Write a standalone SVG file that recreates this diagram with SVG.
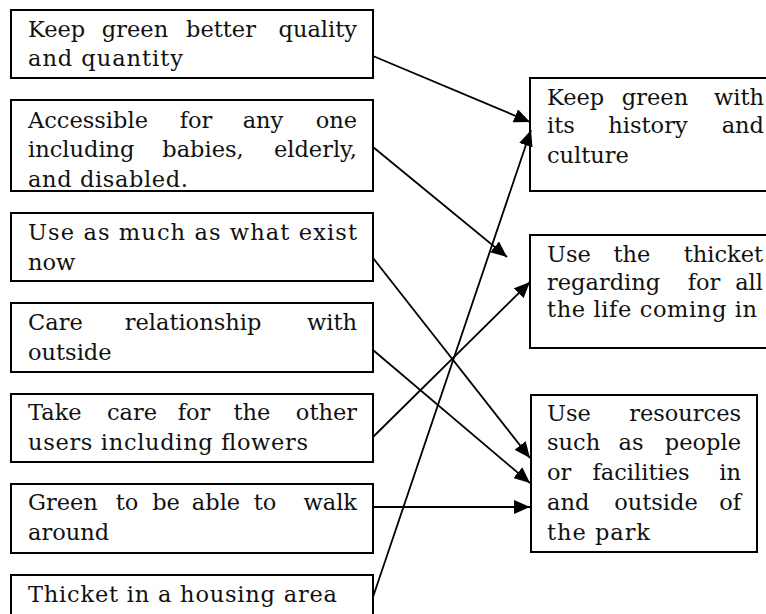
<svg xmlns="http://www.w3.org/2000/svg" width="766" height="614" viewBox="0 0 766 614">
  <style>
    .box { fill: #fff; stroke: #000; stroke-width: 2; }
    .t { font-family: "DejaVu Serif", serif; font-size: 22.5px; fill: #111; }
    .e { text-anchor: end; }
    .m { text-anchor: middle; }
    .link { fill: none; stroke: #000; stroke-width: 1.8; marker-end: url(#arrow); }
  </style>
  <defs>
    <marker id="arrow" markerUnits="userSpaceOnUse" markerWidth="18" markerHeight="14" refX="16" refY="7" orient="auto">
      <path d="M0,0 L16,7 L0,14 Z" fill="#000"/>
    </marker>
  </defs>
  <rect width="766" height="614" fill="#fff"/>

  <!-- left column -->
  <g id="n-quality">
    <rect class="box" x="11" y="10" width="362" height="68"/>
    <text class="t" y="37"><tspan x="28">Keep</tspan><tspan x="135" class="m">green</tspan><tspan x="221" class="m">better</tspan><tspan x="357" class="e">quality</tspan></text>
    <text class="t" x="28" y="66" textLength="155" lengthAdjust="spacing">and quantity</text>
  </g>
  <g id="n-accessible">
    <rect class="box" x="11" y="100" width="362" height="91"/>
    <text class="t" y="128"><tspan x="28">Accessible</tspan><tspan x="196" class="m">for</tspan><tspan x="263" class="m">any</tspan><tspan x="357" class="e">one</tspan></text>
    <text class="t" y="157"><tspan x="28">including</tspan><tspan x="203" class="m">babies,</tspan><tspan x="357" class="e">elderly,</tspan></text>
    <text class="t" x="28" y="187" textLength="160" lengthAdjust="spacing">and disabled.</text>
  </g>
  <g id="n-use-existing">
    <rect class="box" x="11" y="213" width="362" height="68"/>
    <text class="t" x="28" y="240" textLength="329" lengthAdjust="spacing">Use as much as what exist</text>
    <text class="t" x="28" y="270">now</text>
  </g>
  <g id="n-outside">
    <rect class="box" x="11" y="303" width="362" height="69"/>
    <text class="t" y="330"><tspan x="28">Care</tspan><tspan x="193" class="m">relationship</tspan><tspan x="357" class="e">with</tspan></text>
    <text class="t" x="28" y="360">outside</text>
  </g>
  <g id="n-other-users">
    <rect class="box" x="11" y="394" width="362" height="68"/>
    <text class="t" y="420"><tspan x="28">Take</tspan><tspan x="132" class="m">care</tspan><tspan x="194" class="m">for</tspan><tspan x="252" class="m">the</tspan><tspan x="357" class="e">other</tspan></text>
    <text class="t" x="28" y="450" textLength="280" lengthAdjust="spacing">users including flowers</text>
  </g>
  <g id="n-walk">
    <rect class="box" x="11" y="484" width="362" height="69"/>
    <text class="t" y="510"><tspan x="28">Green</tspan><tspan x="127" class="m">to</tspan><tspan x="166" class="m">be</tspan><tspan x="216" class="m">able</tspan><tspan x="265" class="m">to</tspan><tspan x="357" class="e">walk</tspan></text>
    <text class="t" x="28" y="540">around</text>
  </g>
  <g id="n-housing">
    <rect class="box" x="11" y="575" width="362" height="60"/>
    <text class="t" x="28" y="602" textLength="309" lengthAdjust="spacing">Thicket in a housing area</text>
  </g>

  <!-- right column -->
  <g id="n-history">
    <rect class="box" x="530" y="78" width="260" height="113"/>
    <text class="t" y="105"><tspan x="547">Keep</tspan><tspan x="655" class="m">green</tspan><tspan x="764" class="e">with</tspan></text>
    <text class="t" y="133"><tspan x="547">its</tspan><tspan x="648" class="m">history</tspan><tspan x="764" class="e">and</tspan></text>
    <text class="t" x="547" y="163">culture</text>
  </g>
  <g id="n-thicket">
    <rect class="box" x="530" y="235" width="260" height="113"/>
    <text class="t" y="262"><tspan x="547">Use</tspan><tspan x="632" class="m">the</tspan><tspan x="763" class="e">thicket</tspan></text>
    <text class="t" y="290"><tspan x="547">regarding</tspan><tspan x="704" class="m">for</tspan><tspan x="763" class="e">all</tspan></text>
    <text class="t" x="547" y="317" textLength="210" lengthAdjust="spacing">the life coming in</text>
  </g>
  <g id="n-resources">
    <rect class="box" x="531" y="395" width="226" height="157"/>
    <text class="t" y="421"><tspan x="547">Use</tspan><tspan x="741" class="e">resources</tspan></text>
    <text class="t" y="450"><tspan x="547">such</tspan><tspan x="631" class="m">as</tspan><tspan x="741" class="e">people</tspan></text>
    <text class="t" y="480"><tspan x="547">or</tspan><tspan x="641" class="m">facilities</tspan><tspan x="741" class="e">in</tspan></text>
    <text class="t" y="510"><tspan x="547">and</tspan><tspan x="656" class="m">outside</tspan><tspan x="741" class="e">of</tspan></text>
    <text class="t" x="547" y="540" textLength="103" lengthAdjust="spacing">the park</text>
  </g>

  <!-- connectors -->
  <g id="connectors">
    <line class="link" x1="373" y1="56" x2="530" y2="122"/>
    <line class="link" x1="373" y1="147" x2="507" y2="257"/>
    <line class="link" x1="373" y1="258" x2="530" y2="458"/>
    <line class="link" x1="373" y1="350" x2="530" y2="483"/>
    <line class="link" x1="373" y1="437" x2="530" y2="282"/>
    <line class="link" x1="373" y1="507" x2="530" y2="507"/>
    <line class="link" x1="373" y1="597" x2="531" y2="130"/>
  </g>
</svg>
